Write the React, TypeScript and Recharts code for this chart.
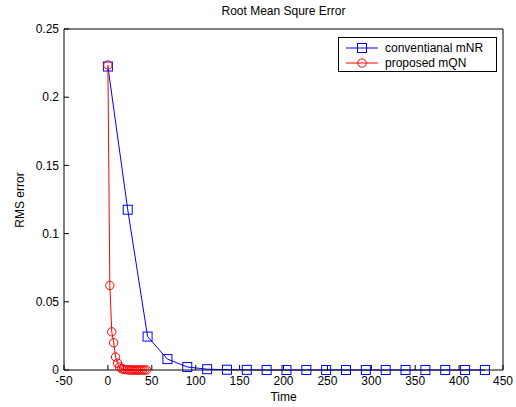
import React from "react";
import { LineChart, Line, XAxis, YAxis } from "recharts";

const xTicks = [-50, 0, 50, 100, 150, 200, 250, 300, 350, 400, 450];
const yTicks = [0, 0.05, 0.1, 0.15, 0.2, 0.25];

const mnrTime = [
  0, 22.6, 45.2, 67.8, 90.4, 113, 135.6, 158.2, 180.8, 203.4, 226, 248.6,
  271.2, 293.8, 316.4, 339, 361.6, 384.2, 406.8, 429.4,
];
const mnrError = [
  0.2225, 0.1175, 0.0245, 0.008, 0.0022, 0.0006, 0.0002, 0.0001, 0, 0, 0, 0,
  0, 0, 0, 0, 0, 0, 0, 0,
];

const mqnTime = [
  0, 2.2, 4.4, 6.6, 8.8, 11, 13.2, 15.4, 17.6, 19.8, 22, 24.2, 26.4, 28.6,
  30.8, 33, 35.2, 37.4, 39.6, 41.8, 44,
];
const mqnError = [
  0.2236, 0.062, 0.028, 0.02, 0.0095, 0.005, 0.0022, 0.001, 0.0006, 0.0003,
  0.0002, 0.0001, 0, 0, 0, 0, 0, 0, 0, 0, 0,
];

const mnrData = mnrTime.map((t, i) => ({ t, v: mnrError[i] }));
const mqnData = mqnTime.map((t, i) => ({ t, v: mqnError[i] }));

const font = "Arial, 'Liberation Sans', sans-serif";

const SquareDot = (props: any) => {
  const { cx, cy } = props;
  if (cx == null || cy == null) return null;
  return (
    <rect x={cx - 4.5} y={cy - 4.5} width={9} height={9} fill="none" stroke="#0000ff" strokeWidth={1} />
  );
};

const CircleDot = (props: any) => {
  const { cx, cy } = props;
  if (cx == null || cy == null) return null;
  return <circle cx={cx} cy={cy} r={4.2} fill="none" stroke="#ff0000" strokeWidth={1} />;
};

const legendItems = [
  { name: "conventianal mNR", color: "#0000ff", shape: "square" },
  { name: "proposed mQN", color: "#ff0000", shape: "circle" },
];

const LegendBox = () => (
  <div
    style={{
      position: "absolute",
      left: 338,
      top: 37,
      border: "1px solid #000",
      background: "#fff",
      width: 159,
      height: 35,
      fontFamily: font,
      fontSize: 12,
      color: "#000",
      boxSizing: "border-box",
      padding: "2px 0 0 5px",
    }}
  >
    {legendItems.map((e) => (
      <div key={e.name} style={{ display: "flex", alignItems: "center", height: 15 }}>
        <svg width={36} height={12} style={{ marginRight: 5 }}>
          <line x1={2} x2={34} y1={6} y2={6} stroke={e.color} />
          {e.shape === "square" ? (
            <rect x={13.5} y={1.5} width={9} height={9} fill="none" stroke={e.color} />
          ) : (
            <circle cx={18} cy={6} r={4.2} fill="none" stroke={e.color} />
          )}
        </svg>
        <span>{e.name}</span>
      </div>
    ))}
  </div>
);

const tickStyle = { fill: "#000", fontSize: 12, fontFamily: font };

export default function App() {
  return (
    <div style={{ position: "absolute", left: 0, top: 0, width: 516, height: 407, background: "#fff" }}>
      <LineChart
        width={516}
        height={407}
        margin={{ top: 28, right: 12, left: 0, bottom: 7 }}
      >
        <XAxis
          xAxisId="b"
          dataKey="t"
          type="number"
          domain={[-50, 450]}
          ticks={xTicks}
          allowDataOverflow
          height={30}
          stroke="#000"
          tickSize={-5}
          tickMargin={11}
          tick={tickStyle}
          interval={0}
        />
        <XAxis
          xAxisId="top"
          orientation="top"
          dataKey="t"
          type="number"
          domain={[-50, 450]}
          ticks={xTicks}
          height={1}
          stroke="#000"
          tickSize={-5}
          tickFormatter={() => ""}
          interval={0}
        />
        <YAxis
          yAxisId="l"
          type="number"
          domain={[0, 0.25]}
          ticks={yTicks}
          width={64}
          stroke="#000"
          tickSize={-5}
          tickMargin={10}
          tick={tickStyle}
          interval={0}
        />
        <YAxis
          yAxisId="r"
          orientation="right"
          type="number"
          domain={[0, 0.25]}
          ticks={yTicks}
          width={1}
          stroke="#000"
          tickSize={-5}
          tickFormatter={() => ""}
          interval={0}
        />
        <Line
          xAxisId="b"
          yAxisId="l"
          data={mnrData}
          dataKey="v"
          stroke="#0000ff"
          strokeWidth={1}
          dot={<SquareDot />}
          activeDot={false}
          isAnimationActive={false}
        />
        <Line
          xAxisId="b"
          yAxisId="l"
          data={mqnData}
          dataKey="v"
          stroke="#ff0000"
          strokeWidth={1}
          dot={<CircleDot />}
          activeDot={false}
          isAnimationActive={false}
        />
      </LineChart>
      <LegendBox />
      <div
        style={{
          position: "absolute",
          top: 4,
          left: 64,
          width: 439,
          textAlign: "center",
          fontFamily: font,
          fontSize: 12,
        }}
      >
        Root Mean Squre Error
      </div>
      <div
        style={{
          position: "absolute",
          top: 390,
          left: 64,
          width: 439,
          textAlign: "center",
          fontFamily: font,
          fontSize: 12,
        }}
      >
        Time
      </div>
      <div
        style={{
          position: "absolute",
          top: 193,
          left: -30,
          width: 100,
          textAlign: "center",
          fontFamily: font,
          fontSize: 12,
          transform: "rotate(-90deg)",
        }}
      >
        RMS error
      </div>
    </div>
  );
}
